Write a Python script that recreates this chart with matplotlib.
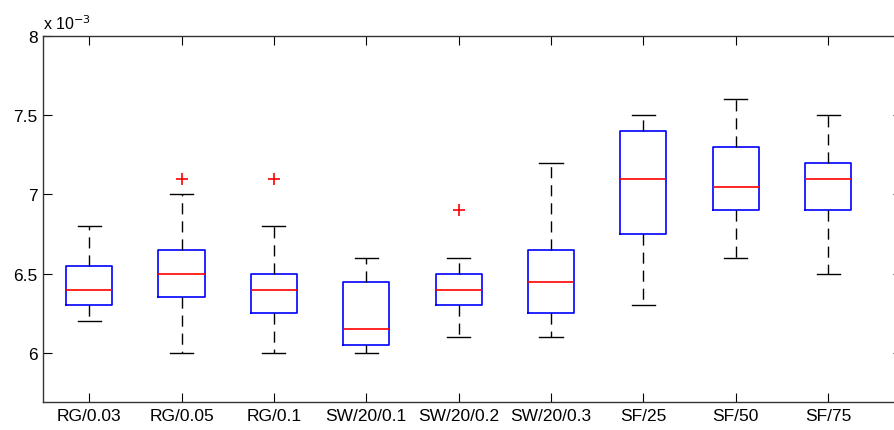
import matplotlib.pyplot as plt

plt.rcParams['font.family'] = ['Liberation Sans', 'DejaVu Sans']

# values in units of 1e-3
labels = ['RG/0.03', 'RG/0.05', 'RG/0.1', 'SW/20/0.1', 'SW/20/0.2',
          'SW/20/0.3', 'SF/25', 'SF/50', 'SF/75']
whislo = [6.2, 6.0, 6.0, 6.0, 6.1, 6.1, 6.3, 6.6, 6.5]
q1 = [6.3, 6.35, 6.25, 6.05, 6.3, 6.25, 6.75, 6.9, 6.9]
med = [6.4, 6.5, 6.4, 6.15, 6.4, 6.45, 7.1, 7.05, 7.1]
q3 = [6.55, 6.65, 6.5, 6.45, 6.5, 6.65, 7.4, 7.3, 7.2]
whishi = [6.8, 7.0, 6.8, 6.6, 6.6, 7.2, 7.5, 7.6, 7.5]
outliers = [[], [7.1], [7.1], [], [6.9], [], [], [], []]

stats = []
for i in range(len(labels)):
    stats.append(dict(label=labels[i], whislo=whislo[i], q1=q1[i], med=med[i],
                      q3=q3[i], whishi=whishi[i], fliers=outliers[i]))

fig = plt.figure(figsize=(8.94, 4.31), dpi=100)
# axes runs slightly past the right edge of the picture, as in the original crop
ax = fig.add_axes([43 / 894, 28 / 431, 859 / 894, 366 / 431])

ax.bxp(stats, widths=0.5, showfliers=True,
       boxprops=dict(color='blue', linewidth=1.2),
       medianprops=dict(color='red', linewidth=1.2),
       whiskerprops=dict(color='black', linewidth=1, linestyle=(0, (8, 5))),
       capprops=dict(color='black', linewidth=1),
       capwidths=0.25,
       flierprops=dict(marker='+', markeredgecolor='red', markersize=9,
                       markeredgewidth=1.2, linestyle='none'))

ax.set_xlim(0.5, 9.8)
ax.set_ylim(5.69, 8.0)
ax.set_yticks([6, 6.5, 7, 7.5, 8])
ax.set_yticklabels(['6', '6.5', '7', '7.5', '8'])
ax.tick_params(direction='in', length=6.5, top=True, right=True,
               labelsize=12.5, colors='black', pad=4)
for s in ax.spines.values():
    s.set_color('#333333')
    s.set_linewidth(1)

ax.text(0.0, 1.01, r'x 10$^{-3}$', transform=ax.transAxes, fontsize=11.5,
        ha='left', va='bottom')

fig.savefig('out.png', dpi=100)
